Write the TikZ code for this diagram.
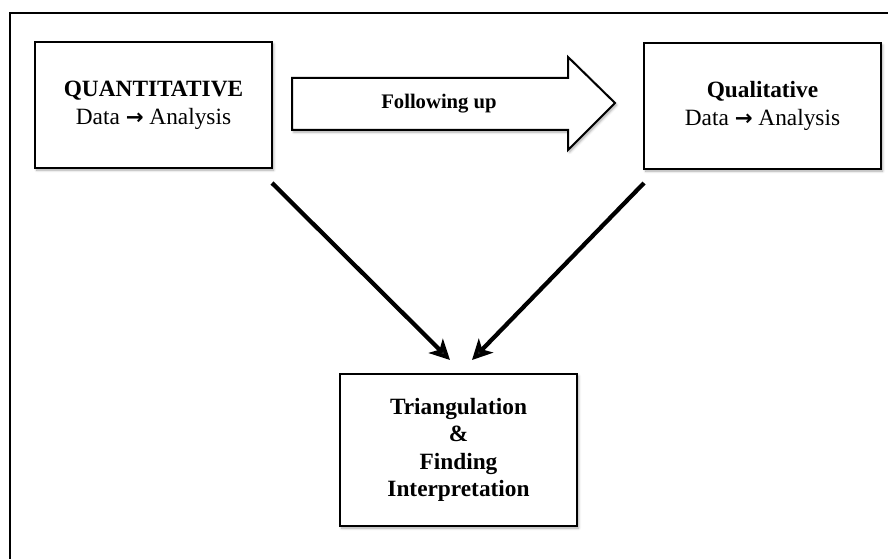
\documentclass[tikz,border=0pt]{standalone}
\usepackage{fontspec}
\setmainfont{Liberation Serif}
\newfontfamily\arrfont{DejaVu Sans}
\newcommand{\bigarr}{{\arrfont\bfseries\fontsize{16}{16}\selectfont →}}
\usetikzlibrary{arrows.meta,shadows.blur}
\begin{document}
\begin{tikzpicture}[x=0.75pt,y=-0.75pt,
  shad/.style={blur shadow={shadow xshift=1.2pt,shadow yshift=-1.6pt,shadow blur steps=6,shadow opacity=35}},
  box/.style={draw=black,line width=1.5pt,fill=white,shad,align=center,inner sep=0pt},
  txt/.style={font=\fontsize{17.5}{21}\selectfont},
  conn/.style={line width=3.2pt,-{Stealth[length=15pt,width=15pt,inset=4pt]}}]
\useasboundingbox (0,0) rectangle (888,559);
\draw[line width=1.5pt] (10,600) -- (10,13) -- (900,13);
% left box
\node[box,txt,minimum width=177.75pt,minimum height=94.5pt] (quan) at (153.5,105)
  {\textbf{QUANTITATIVE}\\[0pt]Data \bigarr{} Analysis};
% right box
\node[box,txt,minimum width=177.75pt,minimum height=94.5pt] (qual) at (762.5,106)
  {\textbf{Qualitative}\\[0pt]Data \bigarr{} Analysis};
% bottom box
\node[box,font=\fontsize{17.5}{20.5}\selectfont\bfseries,minimum width=177.75pt,minimum height=114pt] (tri) at (458.5,450)
  {Triangulation\\\&\\Finding\\Interpretation};
% block arrow
\draw[line width=1.5pt,fill=white,shad,line join=miter]
  (292,78) -- (568,78) -- (568,57) -- (615,103) -- (568,150) -- (568,130) -- (292,130) -- cycle;
\node[font=\fontsize{15.5}{18}\selectfont\bfseries] (fu) at (439,104) {Following up};
% connectors
\coordinate (l1) at (272,183);
\coordinate (l2) at (450,360);
\coordinate (r1) at (644,183);
\coordinate (r2) at (472,360);
\draw[conn] (l1) -- (l2);
\draw[conn] (r1) -- (r2);
\end{tikzpicture}
\end{document}
